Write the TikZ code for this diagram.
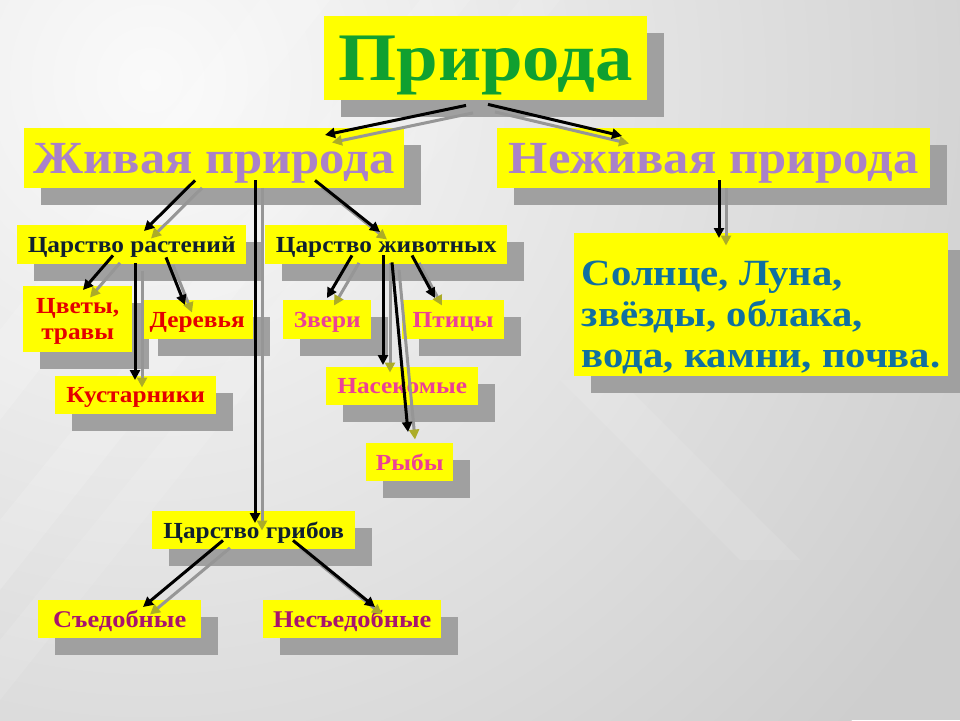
\documentclass[tikz,border=0pt]{standalone}
\usepackage{fontspec}
\setmainfont{Liberation Serif}[FakeStretch=1.1]
\usetikzlibrary{arrows.meta,shadows}
\definecolor{bgA}{RGB}{250,250,250}
\definecolor{bgB}{RGB}{206,206,206}
\definecolor{cgreen}{RGB}{16,160,48}
\definecolor{clav}{RGB}{170,130,200}
\definecolor{cnavy}{RGB}{16,32,48}
\definecolor{cred}{RGB}{228,0,0}
\definecolor{cpink}{RGB}{236,64,150}
\definecolor{cplum}{RGB}{168,20,110}
\definecolor{cblue}{RGB}{16,112,160}
\definecolor{cyel}{RGB}{255,255,0}
\definecolor{cshd}{RGB}{160,160,160}
\definecolor{ctip}{RGB}{172,172,40}
\definecolor{cline}{RGB}{150,150,150}
\tikzset{
  box/.style={fill=cyel, anchor=north west, inner sep=0pt, align=center, text depth=0pt,
    drop shadow={shadow xshift=17pt, shadow yshift=-17pt, fill=cshd, opacity=1}},
  fs/.style 2 args={font=\fontsize{#1}{#2}\selectfont\bfseries},
  arr/.style={draw=black, line width=3pt, -{Triangle[length=10pt,width=10pt]}},
  shd/.style={draw=cline, line width=3pt, -{Triangle[length=10pt,width=10pt,fill=ctip,color=ctip]}},
}
\newcommand\conn[2]{%
  \draw[shd, transform canvas={shift={(7pt,-7.5pt)}}] #1 -- #2;
  \draw[arr] #1 -- #2;}
\begin{document}
\begin{tikzpicture}[x=1pt,y=-1pt]
\useasboundingbox (0,0) rectangle (960,720);
\fill[bgB] (0,0) rectangle (960,720);
\begin{scope}
\clip (0,0) rectangle (960,720);
\shade[inner color=bgA, outer color=bgB] (150,80) circle (950);
\fill[white, opacity=0.16] (0,330) -- (260,0) -- (330,0) -- (0,420) -- cycle;
\fill[white, opacity=0.14] (0,520) -- (420,0) -- (470,0) -- (0,590) -- cycle;
\fill[white, opacity=0.10] (0,640) -- (520,0) -- (560,0) -- (0,700) -- cycle;
\fill[white, opacity=0.10] (560,380) -- (620,380) -- (800,560) -- (740,560) -- cycle;
\end{scope}

% nodes
\node[box, fs={68}{78}, text=cgreen, minimum width=323pt, minimum height=84pt] (pr) at (324,16) {Природа};
\node[box, fs={46}{54}, text=clav, minimum width=380pt, minimum height=60pt] (zh) at (24,128) {Живая природа};
\node[box, fs={46}{54}, text=clav, minimum width=433pt, minimum height=60pt] (nezh) at (497,128) {Неживая природа};
\node[box, fs={37}{41}, text=cblue, minimum width=374pt, minimum height=143pt, align=left] (sol) at (574,233)
  {\rule{0pt}{44pt}Солнце, Луна,\\звёзды, облака,\\вода, камни, почва.};
\node[box, fs={23}{26}, text=cnavy, minimum width=229pt, minimum height=39pt] (rast) at (17,225) {Царство растений};
\node[box, fs={23}{26}, text=cnavy, minimum width=242pt, minimum height=39pt] (zhiv) at (265,225) {Царство животных};
\node[box, fs={23}{26}, text=cred, minimum width=109pt, minimum height=66pt] (cvety) at (23,286) {Цветы,\\травы};
\node[box, fs={23}{26}, text=cred, minimum width=112pt, minimum height=39pt] (derev) at (141,300) {Деревья};
\node[box, fs={23}{26}, text=cred, minimum width=161pt, minimum height=38pt] (kust) at (55,376) {Кустарники};
\node[box, fs={23}{26}, text=cpink, minimum width=88pt, minimum height=39pt] (zveri) at (283,300) {Звери};
\node[box, fs={23}{26}, text=cpink, minimum width=102pt, minimum height=39pt] (ptic) at (402,300) {Птицы};
\node[box, fs={23}{26}, text=cpink, minimum width=152pt, minimum height=38pt] (nasek) at (326,367) {Насекомые};
\node[box, fs={23}{26}, text=cpink, minimum width=87pt, minimum height=38pt] (ryby) at (366,443) {Рыбы};
\node[box, fs={23}{26}, text=cnavy, minimum width=203pt, minimum height=38pt] (grib) at (152,511) {Царство грибов};
\node[box, fs={24}{26}, text=cplum, minimum width=163pt, minimum height=38pt] (sed) at (38,600) {Съедобные};
\node[box, fs={24}{26}, text=cplum, minimum width=178pt, minimum height=38pt] (nesed) at (263,600) {Несъедобные};

% connectors
\conn{([shift={(142,5)}]pr.south west)}{([shift={(301,7)}]zh.north west)}
\conn{([shift={(164,4)}]pr.south west)}{([shift={(125,8)}]nezh.north west)}
\conn{([shift={(171,-8)}]zh.south west)}{([shift={(127,6)}]rast.north west)}
\conn{([shift={(231,-8)}]zh.south west)}{([shift={(103,12)}]grib.north west)}
\conn{([shift={(291,-8)}]zh.south west)}{([shift={(115,7)}]zhiv.north west)}
\conn{([shift={(222,-8)}]nezh.south west)}{([shift={(145,5)}]sol.north west)}
\conn{([shift={(96,-9)}]rast.south west)}{([shift={(60,4)}]cvety.north west)}
\conn{([shift={(118,-1)}]rast.south west)}{([shift={(80,4)}]kust.north west)}
\conn{([shift={(149,-7)}]rast.south west)}{([shift={(44,5)}]derev.north west)}
\conn{([shift={(87,-9)}]zhiv.south west)}{([shift={(44,-2)}]zveri.north west)}
\conn{([shift={(147,-9)}]zhiv.south west)}{([shift={(33,-2)}]ptic.north west)}
\conn{([shift={(118,-9)}]zhiv.south west)}{([shift={(57,-2)}]nasek.north west)}
\conn{([shift={(127,-2)}]zhiv.south west)}{([shift={(42,-11)}]ryby.north west)}
\conn{([shift={(71,-9)}]grib.south west)}{([shift={(105,7)}]sed.north west)}
\conn{([shift={(141,-9)}]grib.south west)}{([shift={(112,7)}]nesed.north west)}
\end{tikzpicture}
\end{document}
